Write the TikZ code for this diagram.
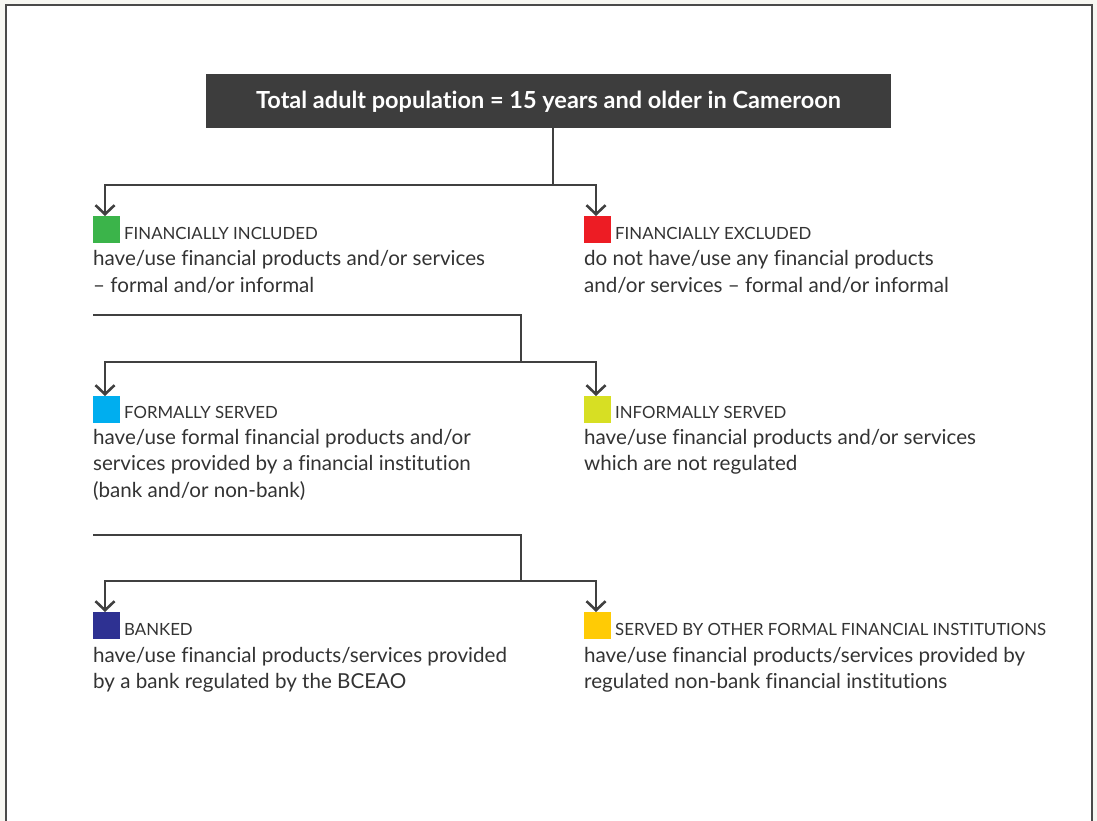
\documentclass[tikz,border=0pt]{standalone}
\usepackage{fontspec}
\setmainfont{Lato}[Ligatures=CommonOff]
\usetikzlibrary{arrows.meta}
\definecolor{bgout}{HTML}{F7F7F2}
\definecolor{framec}{HTML}{4A4A4A}
\definecolor{darkbox}{HTML}{3D3D3D}
\definecolor{linec}{HTML}{404040}
\definecolor{textc}{HTML}{333333}
\definecolor{cgreen}{HTML}{3BB44A}
\definecolor{cred}{HTML}{ED1C24}
\definecolor{cblue}{HTML}{00AEEF}
\definecolor{clime}{HTML}{D7DF23}
\definecolor{cnavy}{HTML}{2E3192}
\definecolor{cyellow}{HTML}{FFCB05}
\tikzset{
  titlebox/.style={fill=darkbox, text=white, inner sep=0pt, minimum width=685pt, minimum height=54pt, font=\fontsize{23.5}{26}\selectfont\bfseries},
  swatch/.style={inner sep=0pt, minimum size=27pt, anchor=north west},
  caplabel/.style={anchor=base west, inner sep=0pt, text=textc, font=\fontsize{16.8}{19}\selectfont},
  bodyline/.style={anchor=base west, inner sep=0pt, text=textc, font=\fontsize{20.6}{24}\selectfont},
  conn/.style={draw=linec, line width=2.6pt},
  arr/.style={conn, -{Straight Barb[length=9pt,width=19pt,line width=2.6pt]}}
}
\begin{document}
\begin{tikzpicture}[x=1pt,y=-1pt]
\useasboundingbox (0,0) rectangle (1097,821);
\clip (0,0) rectangle (1097,821);
\fill[bgout] (0,0) rectangle (1097,821);
\draw[draw=framec, line width=2.5pt, fill=white] (6,5) rectangle (1092,850);

% title
\node[titlebox, text depth=2pt] (title) at (548.5,101) {Total adult population = 15 years and older in Cameroon};

% level 1
\node[swatch, fill=cgreen] (sqA) at (93,216) {};
\node[caplabel] (labA) at (124,239) {FINANCIALLY INCLUDED};
\node[bodyline] (a1) at (93,265) {have/use financial products and/or services};
\node[bodyline] (a2) at (93,292) {– formal and/or informal};
\node[swatch, fill=cred] (sqB) at (584,216) {};
\node[caplabel] (labB) at (615,239) {FINANCIALLY EXCLUDED};
\node[bodyline] (b1) at (584,265) {do not have/use any financial products};
\node[bodyline] (b2) at (584,292) {and/or services – formal and/or informal};

% level 2
\node[swatch, fill=cblue] (sqC) at (93,396) {};
\node[caplabel] (labC) at (124,418) {FORMALLY SERVED};
\node[bodyline] (c1) at (93,444) {have/use formal financial products and/or};
\node[bodyline] (c2) at (93,470) {services provided by a financial institution};
\node[bodyline] (c3) at (93,497) {(bank and/or non-bank)};
\node[swatch, fill=clime] (sqD) at (584,396) {};
\node[caplabel] (labD) at (615,418) {INFORMALLY SERVED};
\node[bodyline] (d1) at (584,444) {have/use financial products and/or services};
\node[bodyline] (d2) at (584,470) {which are not regulated};

% level 3
\node[swatch, fill=cnavy] (sqE) at (93,612) {};
\node[caplabel] (labE) at (124,635) {BANKED};
\node[bodyline] (e1) at (93,662) {have/use financial products/services provided};
\node[bodyline] (e2) at (93,688) {by a bank regulated by the BCEAO};
\node[swatch, fill=cyellow] (sqF) at (584,612) {};
\node[caplabel] (labF) at (615,635) {SERVED BY OTHER FORMAL FINANCIAL INSTITUTIONS};
\node[bodyline] (f1) at (584,662) {have/use financial products/services provided by};
\node[bodyline] (f2) at (584,688) {regulated non-bank financial institutions};

% connectors level 1
\coordinate (j1) at (553,185);
\draw[conn] (title.south -| j1) -- (j1);
\draw[arr] (j1) -- (105,185) -- (sqA.north -| 105,0);
\draw[arr] (j1) -- (596,185) -- (sqB.north -| 596,0);

% connectors level 2
\coordinate (s2) at (93,315);
\coordinate (j2) at (521,362);
\draw[conn] (s2) -- (521,315) -- (j2);
\draw[arr] (j2) -- (105,362) -- (sqC.north -| 105,0);
\draw[arr] (j2) -- (596,362) -- (sqD.north -| 596,0);

% connectors level 3
\coordinate (s3) at (93,535);
\coordinate (j3) at (521,581);
\draw[conn] (s3) -- (521,535) -- (j3);
\draw[arr] (j3) -- (105,581) -- (sqE.north -| 105,0);
\draw[arr] (j3) -- (596,581) -- (sqF.north -| 596,0);
\end{tikzpicture}
\end{document}
